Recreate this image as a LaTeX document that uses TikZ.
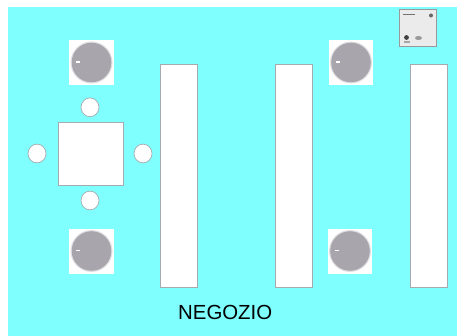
\documentclass[tikz,border=0pt]{standalone}
\usepackage{fontspec}
\setmainfont{Liberation Sans}
\definecolor{bgc}{RGB}{128,255,255}
\definecolor{edgegray}{RGB}{165,170,175}
\definecolor{conegray}{RGB}{168,166,172}
\definecolor{rimgray}{RGB}{225,225,228}
\tikzset{x=1pt,y=-1pt,
 shelf/.style={draw=edgegray,line width=.7pt,fill=white,inner sep=0},
 seat/.style={draw=edgegray,line width=.7pt,fill=white}}
\newcommand{\speaker}[3]{%
 \fill[white] (#1-22.3,#2-22) rectangle (#1+22.3,#2+22.5);
 \fill[rimgray] (#1,#2) circle (21);
 \fill[conegray] (#1,#2) circle (19.8);
 \fill[white] (#1-15.5,#2-1.4) rectangle (#1-11.5,#2+.4);
 \coordinate (#3) at (#1,#2);}
\begin{document}
\begin{tikzpicture}
\useasboundingbox (0,0) rectangle (457,336);
\fill[white] (0,0) rectangle (457,336);
\fill[bgc] (8,7.5) rectangle (456.5,336);
\speaker{91.5}{62.5}{s1}
\speaker{91.5}{251}{s2}
\speaker{351}{62.5}{s3}
\speaker{350}{251}{s4}
\node[shelf,minimum width=37pt,minimum height=222.5pt] (a) at (178.5,176) {};
\node[shelf,minimum width=37pt,minimum height=222.5pt] (b) at (293.5,176) {};
\node[shelf,minimum width=37pt,minimum height=222.5pt] (c) at (428.5,176) {};
\node[shelf,minimum width=65pt,minimum height=63.4pt] (t) at (90.8,154) {};
\draw[seat] (90,107.3) ellipse (9 and 9.4);
\draw[seat] (90,200.5) ellipse (9 and 9.4);
\draw[seat] (37,153.5) ellipse (9 and 9.4);
\draw[seat] (143,153.5) ellipse (9 and 9.4);
\node[font=\fontsize{20.4}{24}\selectfont,inner sep=0] (n) at (225.2,312) {NEGOZIO};
\fill[black!40] (399.3,9.3) rectangle (437,47);
\fill[black!8] (400.1,10.1) rectangle (436.2,46.2);
\fill[black!55] (403,13.8) rectangle (415,15);
\fill[black!60] (431,15.5) circle (2);
\fill[black!75] (406.5,37.5) circle (2.4);
\fill[black!35] (403.5,41) rectangle (409.5,43);
\fill[black!40] (418.5,38) ellipse (3.5 and 2);
\end{tikzpicture}
\end{document}
